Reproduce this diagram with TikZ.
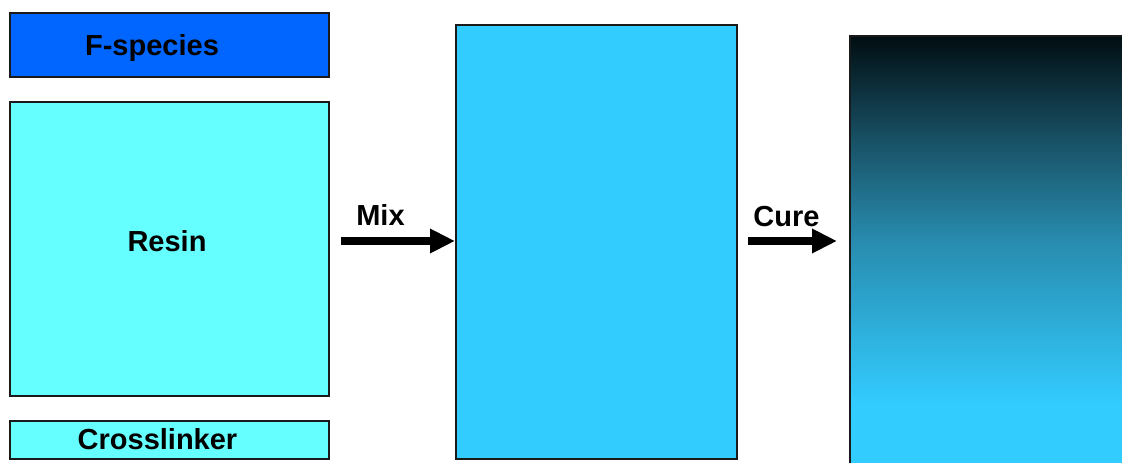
\documentclass[tikz,border=0pt]{standalone}
\usepackage{fontspec}
\setmainfont{Liberation Sans}
\usetikzlibrary{arrows.meta}
\definecolor{fblue}{HTML}{0066FF}
\definecolor{resinc}{HTML}{66FFFF}
\definecolor{mixc}{HTML}{33CCFF}
\definecolor{darktop}{RGB}{1,14,18}
\definecolor{gradA}{RGB}{24,80,100}
\definecolor{gradB}{RGB}{40,140,175}
\definecolor{edgec}{HTML}{1A1A1A}
\pgfdeclareverticalshading{cureshade}{100bp}{color(0bp)=(mixc); color(32bp)=(mixc); color(51bp)=(gradB); color(63bp)=(gradA); color(75bp)=(darktop); color(100bp)=(darktop)}
\tikzset{
  box/.style={draw=edgec, line width=2pt, anchor=north west, inner sep=0pt},
  lbl/.style={anchor=base, inner sep=0pt, font=\fontsize{29}{34}\selectfont\bfseries},
  bigarrow/.style={line width=8pt, -{Triangle[length=25pt,width=23pt]}}
}
\begin{document}
\begin{tikzpicture}[x=1pt,y=-1pt]
\useasboundingbox (0,0) rectangle (1122,463);
\clip (0,0) rectangle (1122,463);
\node[box, fill=fblue, minimum width=319pt, minimum height=64pt] (fsp) at (9,12) {};
\node[box, fill=resinc, minimum width=319pt, minimum height=294pt] (resin) at (9,101) {};
\node[box, fill=resinc, minimum width=319pt, minimum height=38pt] (cross) at (9,420) {};
\node[box, fill=mixc, minimum width=281pt, minimum height=434pt] (mixed) at (455,24) {};
\node[box, shading=cureshade, minimum width=300pt, minimum height=428pt] (cured) at (849,35) {};
\node[lbl] (tf) at (152,55) {F-species};
\node[lbl] (tr) at (167,251) {Resin};
\node[lbl] (tc) at (157.5,449) {Crosslinker};
\node[lbl] (tm) at (380.5,225) {Mix};
\node[lbl] (tu) at (786.5,226) {Cure};
\coordinate (ms) at (341,241);
\coordinate (cs) at (748,241);
\coordinate (ce) at (837,241);
\draw[bigarrow] (ms) -- (mixed.west |- ms);
\draw[bigarrow] (cs) -- (ce);
\end{tikzpicture}
\end{document}
